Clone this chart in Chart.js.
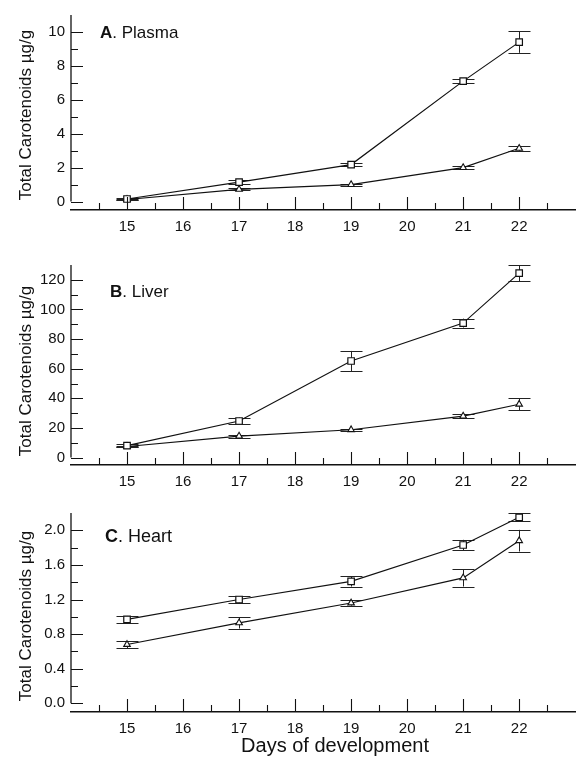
<!DOCTYPE html>
<html><head><meta charset="utf-8">
<script src="https://cdn.jsdelivr.net/npm/chart.js@4.4.0/dist/chart.umd.min.js"></script>
<style>
html,body{margin:0;padding:0;background:#fff;}
#wrap{position:relative;width:581px;height:757px;overflow:hidden;background:#fff}
canvas{position:absolute;left:0}
</style></head><body>
<div id="wrap">
<canvas id="cA" width="581" height="240" style="top:0px"></canvas>
<canvas id="cB" width="581" height="255" style="top:240px"></canvas>
<canvas id="cC" width="581" height="262" style="top:495px"></canvas>
</div>
<script>
// ---- data ----
const days = [15, 17, 19, 21, 22];
const xTickValues = [15, 16, 17, 18, 19, 20, 21, 22];
const xMinorTicks = [14.5, 15.5, 16.5, 17.5, 18.5, 19.5, 20.5, 21.5, 22.5];

// A. Plasma
const plasmaSquare = [0.15, 1.14, 2.18, 7.1, 9.4];
const plasmaSquareErr = [0.05, 0.1, 0.1, 0.1, 0.63];
const plasmaTriangle = [0.12, 0.72, 1.0, 2.0, 3.14];
const plasmaTriangleErr = [0.05, 0.05, 0.06, 0.1, 0.15];
const plasmaYTicks = [0, 2, 4, 6, 8, 10];
const plasmaYMinor = [1, 3, 5, 7, 9];

// B. Liver
const liverSquare = [8.1, 24.7, 65.2, 90.8, 124.5];
const liverSquareErr = [0.8, 2.3, 6.8, 3.0, 5.5];
const liverTriangle = [7.5, 14.5, 18.8, 28.0, 36.0];
const liverTriangleErr = [0.6, 1.0, 0.6, 1.5, 4.0];
const liverYTicks = [0, 20, 40, 60, 80, 100, 120];
const liverYMinor = [10, 30, 50, 70, 90, 110];

// C. Heart
const heartSquare = [0.97, 1.20, 1.41, 1.83, 2.15];
const heartSquareErr = [0.04, 0.04, 0.06, 0.06, 0.045];
const heartTriangle = [0.68, 0.93, 1.16, 1.45, 1.88];
const heartTriangleErr = [0.04, 0.065, 0.03, 0.1, 0.125];
const heartYTicks = [0, 0.4, 0.8, 1.2, 1.6, 2.0];
const heartYMinor = [0.2, 0.6, 1.0, 1.4, 1.8];

const FONT = "'Liberation Sans', Arial, sans-serif";

const customPlugin = {
  id: 'custom',
  beforeDatasetsDraw(chart, args, o) {
    const ctx = chart.ctx, xs = chart.scales.x, ys = chart.scales.y;
    ctx.save();
    ctx.strokeStyle = '#222';
    ctx.lineWidth = 1;
    [o.errA, o.errB].forEach((errs, di) => {
      const vals = chart.data.datasets[di].data;
      vals.forEach((p, j) => {
        const x = Math.round(xs.getPixelForValue(p.x)) + 0.5;
        const yt = ys.getPixelForValue(p.y + errs[j]);
        const yb = ys.getPixelForValue(p.y - errs[j]);
        ctx.beginPath();
        ctx.moveTo(x, yt); ctx.lineTo(x, yb);
        ctx.moveTo(x - 11, Math.round(yt) + 0.5); ctx.lineTo(x + 11, Math.round(yt) + 0.5);
        ctx.moveTo(x - 11, Math.round(yb) + 0.5); ctx.lineTo(x + 11, Math.round(yb) + 0.5);
        ctx.stroke();
      });
    });
    ctx.restore();
  },
  afterDraw(chart, args, o) {
    const ctx = chart.ctx, xs = chart.scales.x, ys = chart.scales.y, ca = chart.chartArea;
    ctx.save();
    ctx.strokeStyle = '#111';
    ctx.lineWidth = 1.3;
    // y axis line from value 0 up to top
    const y0 = ys.getPixelForValue(0);
    ctx.beginPath();
    ctx.moveTo(ca.left, y0); ctx.lineTo(ca.left, ca.top);
    ctx.stroke();
    ctx.lineWidth = 1.1;
    ctx.beginPath();
    o.yMajor.forEach(v => { const y = Math.round(ys.getPixelForValue(v)) + 0.5; ctx.moveTo(ca.left, y); ctx.lineTo(ca.left + 12, y); });
    o.yMinor.forEach(v => { const y = Math.round(ys.getPixelForValue(v)) + 0.5; ctx.moveTo(ca.left, y); ctx.lineTo(ca.left + 7, y); });
    xTickValues.forEach(v => { const x = Math.round(xs.getPixelForValue(v)) + 0.5; ctx.moveTo(x, ca.bottom); ctx.lineTo(x, ca.bottom - 13); });
    xMinorTicks.forEach(v => { const x = Math.round(xs.getPixelForValue(v)) + 0.5; ctx.moveTo(x, ca.bottom); ctx.lineTo(x, ca.bottom - 7); });
    ctx.stroke();
    // y title
    ctx.fillStyle = '#111';
    ctx.save();
    ctx.translate(31, o.titleY);
    ctx.rotate(-Math.PI / 2);
    ctx.font = '17px ' + FONT;
    ctx.textAlign = 'center';
    ctx.textBaseline = 'alphabetic';
    ctx.fillText('Total Carotenoids \u00b5g/g', 0, 0);
    ctx.restore();
    // panel label
    ctx.textAlign = 'left';
    ctx.textBaseline = 'alphabetic';
    ctx.font = 'bold ' + o.labelSize + 'px ' + FONT;
    ctx.fillText(o.letter, o.labelX, o.labelY);
    const w = ctx.measureText(o.letter).width;
    ctx.font = o.labelSize + 'px ' + FONT;
    ctx.fillText('. ' + o.name, o.labelX + w, o.labelY);
    if (o.xTitle) {
      ctx.textAlign = 'center';
      ctx.font = '20px ' + FONT;
      ctx.fillText(o.xTitle, 335, o.xTitleY);
    }
    ctx.restore();
  }
};

function makeChart(id, sq, sqErr, tri, triErr, yMin, yMax, yMajor, yMinor, padTop, xHeight, fmt, extra) {
  const toPts = arr => arr.map((v, i) => ({ x: days[i], y: v }));
  return new Chart(document.getElementById(id), {
    type: 'line',
    data: {
      datasets: [
        { data: toPts(sq), borderColor: '#111', borderWidth: 1.2, pointStyle: 'rect', pointRadius: 4.6,
          pointBackgroundColor: '#fff', pointBorderColor: '#111', pointBorderWidth: 1.2, tension: 0, clip: false },
        { data: toPts(tri), borderColor: '#111', borderWidth: 1.2, pointStyle: 'triangle', pointRadius: 3.8,
          pointBackgroundColor: '#fff', pointBorderColor: '#111', pointBorderWidth: 1.1, tension: 0, clip: false }
      ]
    },
    options: {
      responsive: false, animation: false, devicePixelRatio: 1,
      layout: { padding: { left: 0, right: 0, top: padTop, bottom: 0 } },
      plugins: {
        legend: { display: false }, tooltip: { enabled: false },
        custom: Object.assign({ errA: sqErr, errB: triErr, yMajor: yMajor, yMinor: yMinor }, extra)
      },
      scales: {
        x: {
          type: 'linear', min: 14, max: 23,
          afterBuildTicks: s => { s.ticks = xTickValues.map(v => ({ value: v })); },
          afterFit: s => { s.height = xHeight; },
          grid: { display: false, drawTicks: false },
          border: { display: true, color: '#111', width: 1.5 },
          ticks: { color: '#111', font: { size: 15, family: FONT }, padding: 8, maxRotation: 0, autoSkip: false,
                   callback: v => String(v) }
        },
        y: {
          type: 'linear', min: yMin, max: yMax,
          afterBuildTicks: s => { s.ticks = yMajor.map(v => ({ value: v })); },
          afterFit: s => { s.width = 71; },
          grid: { display: false, drawTicks: false },
          border: { display: false },
          ticks: { color: '#111', font: { size: 15, family: FONT }, padding: 6, autoSkip: false, callback: fmt }
        }
      }
    },
    plugins: [customPlugin]
  });
}

makeChart('cA', plasmaSquare, plasmaSquareErr, plasmaTriangle, plasmaTriangleErr, -0.5, 11,
  plasmaYTicks, plasmaYMinor, 8, 30, v => String(v),
  { titleY: 115, letter: 'A', name: 'Plasma', labelX: 100, labelY: 38, labelSize: 17 });
makeChart('cB', liverSquare, liverSquareErr, liverTriangle, liverTriangleErr, -5, 130,
  liverYTicks, liverYMinor, 25, 30, v => String(v),
  { titleY: 131, letter: 'B', name: 'Liver', labelX: 110, labelY: 57, labelSize: 17 });
makeChart('cC', heartSquare, heartSquareErr, heartTriangle, heartTriangleErr, -0.1, 2.2,
  heartYTicks, heartYMinor, 18, 45, v => Number(v).toFixed(1),
  { titleY: 121, letter: 'C', name: 'Heart', labelX: 105, labelY: 47, labelSize: 18,
    xTitle: 'Days of development', xTitleY: 257 });
</script>
</body></html>
